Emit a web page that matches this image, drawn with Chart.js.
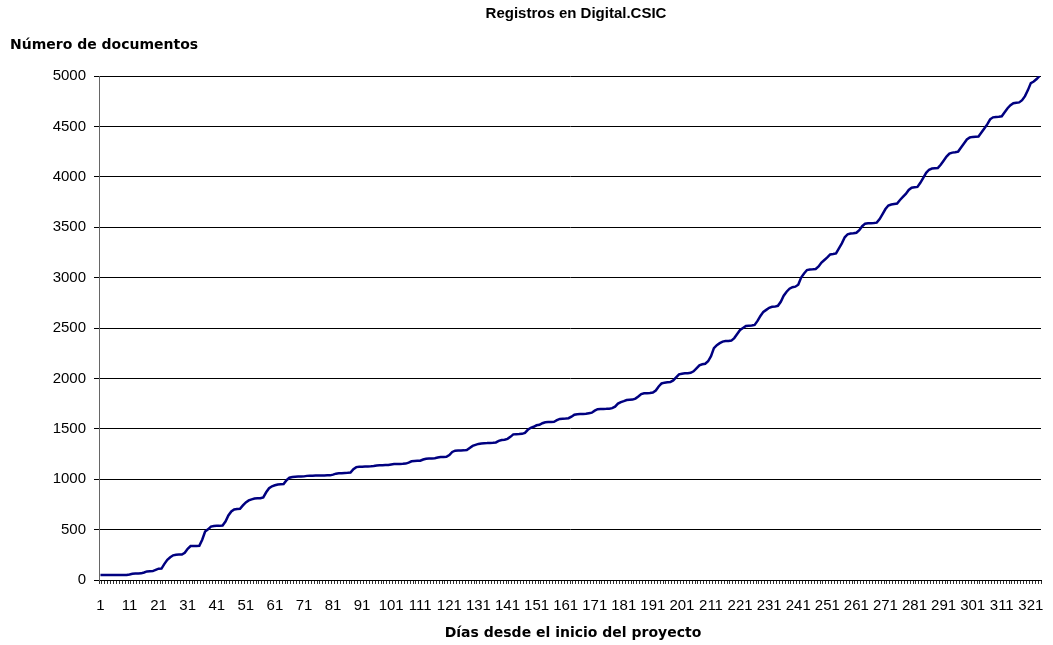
<!DOCTYPE html>
<html>
<head>
<meta charset="utf-8">
<script src="https://cdn.jsdelivr.net/npm/chart.js@4/dist/chart.umd.min.js"></script>
<style>
html,body{margin:0;padding:0;background:#fff;}
#wrap{width:1053px;height:645px;position:relative;}
</style>
</head>
<body>
<div id="wrap"><canvas id="c" width="1053" height="645"></canvas></div>
<script>
const chartTitle = "Registros en Digital.CSIC";
const yAxisTitle = "Número de documentos";
const xAxisTitle = "Días desde el inicio del proyecto";

const documentos = [
  50, 50, 50, 50, 50, 50, 50, 50, 50, 50,
  55, 62, 65, 65, 66, 75, 85, 87, 88, 100,
  112, 113, 160, 200, 225, 245, 251, 252, 252, 270,
  310, 337, 338, 338, 340, 400, 480, 503, 530, 536,
  537, 537, 540, 580, 640, 680, 700, 705, 707, 740,
  770, 790, 800, 808, 810, 812, 820, 870, 910, 930,
  940, 948, 950, 952, 990, 1015, 1022, 1025, 1026, 1027,
  1028, 1033, 1035, 1035, 1036, 1036, 1037, 1037, 1038, 1038,
  1045, 1055, 1058, 1060, 1062, 1063, 1065, 1100, 1120, 1124,
  1124, 1126, 1127, 1128, 1130, 1136, 1138, 1139, 1140, 1140,
  1146, 1150, 1151, 1152, 1153, 1155, 1165, 1178, 1181, 1182,
  1183, 1195, 1203, 1205, 1206, 1208, 1215, 1220, 1221, 1222,
  1240, 1270, 1283, 1284, 1285, 1286, 1290, 1310, 1330, 1340,
  1350, 1355, 1357, 1358, 1360, 1362, 1365, 1380, 1389, 1391,
  1400, 1420, 1445, 1447, 1448, 1450, 1460, 1490, 1510, 1520,
  1535, 1540, 1555, 1565, 1567, 1568, 1570, 1585, 1598, 1600,
  1602, 1605, 1620, 1640, 1645, 1647, 1648, 1650, 1655, 1660,
  1680, 1694, 1696, 1697, 1698, 1700, 1705, 1720, 1750, 1765,
  1775, 1786, 1788, 1790, 1800, 1820, 1845, 1852, 1853, 1855,
  1860, 1880, 1920, 1950, 1958, 1961, 1963, 1980, 2010, 2040,
  2046, 2050, 2052, 2055, 2070, 2100, 2130, 2140, 2145, 2170,
  2220, 2300, 2330, 2350, 2365, 2370, 2372, 2375, 2400, 2440,
  2480, 2500, 2520, 2523, 2525, 2530, 2570, 2620, 2660, 2680,
  2700, 2710, 2712, 2720, 2760, 2820, 2860, 2890, 2905, 2910,
  2930, 3000, 3040, 3075, 3080, 3082, 3085, 3110, 3150, 3175,
  3200, 3230, 3234, 3240, 3290, 3340, 3400, 3430, 3438, 3440,
  3445, 3470, 3510, 3535, 3539, 3540, 3542, 3545, 3580, 3630,
  3680, 3715, 3725, 3730, 3735, 3770, 3800, 3830, 3870, 3892,
  3896, 3900, 3940, 3990, 4040, 4070, 4082, 4084, 4086, 4120,
  4160, 4200, 4230, 4240, 4243, 4250, 4290, 4330, 4370, 4390,
  4396, 4398, 4400, 4440, 4480, 4520, 4570, 4590, 4594, 4596,
  4600, 4640, 4680, 4710, 4730, 4735, 4738, 4760, 4800, 4860,
  4930, 4945, 4970, 5000
];

const dias = [];
for (let d = 1; d <= documentos.length; d++) dias.push(String(d));

const yMin = 0, yMax = 5000, yStep = 500;
const xLabelEvery = 10;

const titlesPlugin = {
  id: 'titles',
  afterDraw(chart) {
    const ctx = chart.ctx;
    const a = chart.chartArea;
    ctx.save();
    ctx.fillStyle = '#000';
    ctx.textBaseline = 'middle';
    ctx.textAlign = 'center';
    ctx.font = 'bold 15px "Liberation Sans", Arial, sans-serif';
    ctx.fillText(chartTitle, (a.left + a.right) / 2 + 6, 14);
    ctx.font = 'bold 14px "DejaVu Sans", sans-serif';
    ctx.fillText(xAxisTitle, (a.left + a.right) / 2 + 3, 633);
    ctx.textAlign = 'left';
    ctx.fillText(yAxisTitle, 10, 45);
    ctx.restore();
  }
};

new Chart(document.getElementById('c'), {
  type: 'line',
  data: {
    labels: dias,
    datasets: [{
      data: documentos,
      borderColor: '#000080',
      borderWidth: 2.5,
      pointRadius: 0,
      tension: 0,
      fill: false
    }]
  },
  options: {
    responsive: false,
    animation: false,
    devicePixelRatio: 1,
    layout: { padding: { top: 76, right: 12, left: 0, bottom: 0 } },
    plugins: { legend: { display: false }, tooltip: { enabled: false }, title: { display: false } },
    scales: {
      x: {
        type: 'category',
        offset: true,
        afterFit(scale) { scale.height = 65; },
        grid: { display: true, offset: true, drawOnChartArea: false, drawTicks: true, tickLength: 4, color: '#333', lineWidth: 1 },
        border: { display: true, color: '#000', width: 1 },
        ticks: {
          autoSkip: false, maxRotation: 0, minRotation: 0, padding: 13,
          color: '#000',
          font: { family: '"Liberation Sans", Arial, sans-serif', size: 15 },
          callback(v, i) { return i % xLabelEvery === 0 ? dias[i] : ''; }
        }
      },
      y: {
        min: yMin, max: yMax,
        afterFit(scale) { scale.width = 99; },
        grid: { color: '#000', lineWidth: 1, drawTicks: true, tickLength: 5 },
        border: { display: true, color: '#666', width: 1 },
        ticks: {
          stepSize: yStep, padding: 8, color: '#000',
          font: { family: '"Liberation Sans", Arial, sans-serif', size: 15 },
          callback(v) { return String(v); }
        }
      }
    }
  },
  plugins: [titlesPlugin]
});
</script>
</body>
</html>
